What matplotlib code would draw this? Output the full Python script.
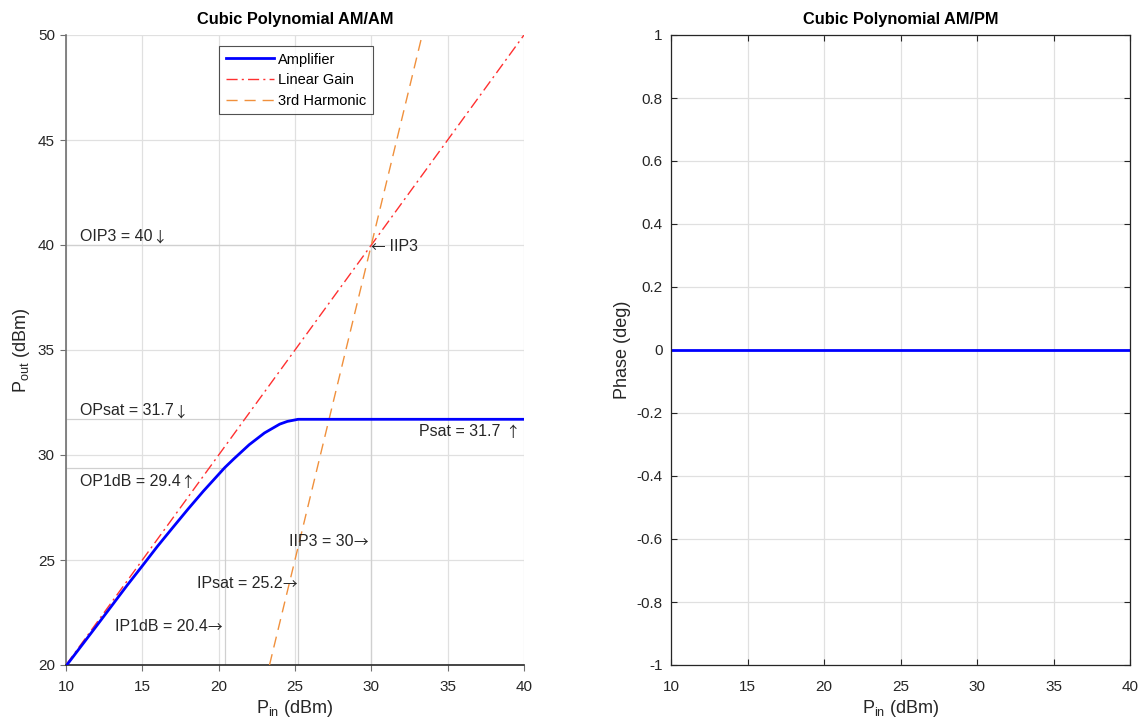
import matplotlib
matplotlib.use("Agg")
import matplotlib.pyplot as plt

plt.rcParams['font.family'] = ['Liberation Sans', 'DejaVu Sans']

# ---- data ----
pin_amp = [10, 12, 14, 15, 16, 17, 18, 19, 20, 20.4, 21, 22, 23, 24, 24.5, 25, 25.2, 30, 35, 40]
pout_amp = [19.95, 21.86, 23.79, 24.72, 25.66, 26.55, 27.43, 28.28, 29.08, 29.4, 29.82,
            30.49, 31.05, 31.47, 31.6, 31.67, 31.7, 31.7, 31.7, 31.7]
pin_lin = [10, 40]
pout_lin = [20, 50]
pin_h3 = [23.33, 33.33]
pout_h3 = [20, 50]
phase_x = [10, 40]
phase_y = [0, 0]

OIP3, IIP3 = 40, 30
OPsat, IPsat = 31.7, 25.2
OP1dB, IP1dB = 29.4, 20.4

xticks = [10, 15, 20, 25, 30, 35, 40]
yticks_l = [20, 25, 30, 35, 40, 45, 50]
yticks_r = [-1, -0.8, -0.6, -0.4, -0.2, 0, 0.2, 0.4, 0.6, 0.8, 1]
yticklabels_r = ['-1', '-0.8', '-0.6', '-0.4', '-0.2', '0', '0.2', '0.4', '0.6', '0.8', '1']

W, H = 1143, 723
fig = plt.figure(figsize=(W / 100, H / 100), dpi=100)
ax1 = fig.add_axes([66 / W, 1 - 665 / H, (524 - 66) / W, (665 - 35) / H])
ax2 = fig.add_axes([671 / W, 1 - 665 / H, (1130 - 671) / W, (665 - 35) / H])

gridc = '#e0e0e0'
refc = '#d0d0d0'
txtc = '#262626'
fs = 11.5
tfs = 11
lfs = 13

# reference lines
ax1.plot([10, IIP3], [OIP3, OIP3], color=refc, lw=0.9, zorder=1)
ax1.plot([IIP3, IIP3], [20, OIP3], color=refc, lw=0.9, zorder=1)
ax1.plot([10, IPsat], [OPsat, OPsat], color=refc, lw=0.9, zorder=1)
ax1.plot([IPsat, IPsat], [20, OPsat], color=refc, lw=0.9, zorder=1)
ax1.plot([10, IP1dB], [OP1dB, OP1dB], color=refc, lw=0.9, zorder=1)
ax1.plot([IP1dB, IP1dB], [20, OP1dB], color=refc, lw=0.9, zorder=1)

ax1.plot(pin_amp, pout_amp, color='#0000ff', lw=2.0, label='Amplifier', zorder=4)
ax1.plot(pin_lin, pout_lin, color='#ff3030', lw=1.0, ls=(0, (8, 3, 1.5, 3)), label='Linear Gain', zorder=3)
ax1.plot(pin_h3, pout_h3, color='#f0903c', lw=1.0, ls=(0, (8, 5)), label='3rd Harmonic', zorder=3)

arrow_font = ['Noto Sans CJK SC', 'DejaVu Sans']
afs = 10.5


def note_left(x, y, main, arrow):
    t = ax1.text(x, y, main, fontsize=fs, color=txtc, va='center', ha='left')
    ax1.annotate(arrow, xy=(1, 0.5), xycoords=t, xytext=(0, -1), textcoords='offset points',
                 fontsize=afs, color=txtc, va='center', ha='left', family=arrow_font)


def note_right(x, y, main, arrow):
    a = ax1.text(x, y, arrow, fontsize=afs, color=txtc, va='center', ha='right', family=arrow_font)
    ax1.annotate(main, xy=(0, 0.5), xycoords=a, xytext=(0, 1), textcoords='offset points',
                 fontsize=fs, color=txtc, va='center', ha='right')


note_left(10.9, 40.4, 'OIP3 = 40', '\u2193')
a = ax1.text(29.95, 39.85, '\u2190', fontsize=afs, color=txtc, va='center', ha='left', family=arrow_font)
ax1.annotate(' IIP3', xy=(1, 0.5), xycoords=a, xytext=(0, 1), textcoords='offset points',
             fontsize=fs, color=txtc, va='center', ha='left')
note_left(10.9, 32.1, 'OPsat = 31.7', '\u2193')
note_right(39.7, 31.05, 'Psat = 31.7 ', '\u2191')
note_left(10.9, 28.75, 'OP1dB = 29.4', '\u2191')
note_right(29.8, 25.8, 'IIP3 = 30', '\u2192')
note_right(25.15, 23.8, 'IPsat = 25.2', '\u2192')
note_right(20.25, 21.75, 'IP1dB = 20.4', '\u2192')

ax1.set_xlim(10, 40)
ax1.set_ylim(20, 50)
ax1.set_xticks(xticks)
ax1.set_yticks(yticks_l)
ax1.grid(True, color=gridc, lw=0.9)
ax1.set_axisbelow(True)
for s in ['top', 'right']:
    ax1.spines[s].set_visible(False)
ax1.spines['left'].set_color('#707070')
ax1.spines['bottom'].set_color('#262626')
for s in ['left', 'bottom']:
    ax1.spines[s].set_linewidth(1.2)
ax1.tick_params(direction='out', length=4, colors='#707070', labelcolor=txtc, labelsize=tfs)
ax1.tick_params(axis='x', pad=7)
ax1.tick_params(axis='y', pad=4)
ax1.set_title('Cubic Polynomial AM/AM', fontsize=11.8, fontweight='bold', color='black', pad=8)
ax1.set_xlabel('P$_{\\mathregular{in}}$ (dBm)', fontsize=lfs, color=txtc, labelpad=3)
ax1.set_ylabel('P$_{\\mathregular{out}}$ (dBm)', fontsize=lfs, color=txtc, labelpad=4)

leg = ax1.legend(loc='upper left', bbox_to_anchor=((219 - 66) / 458, 1 - (46 - 35) / 630),
                 fontsize=10.5, frameon=True, fancybox=False, edgecolor='#262626',
                 handlelength=3.3, handletextpad=0.3, borderpad=0.45, labelspacing=0.45,
                 borderaxespad=0)
leg.get_frame().set_linewidth(0.8)

# right panel
ax2.plot(phase_x, phase_y, color='#0000ff', lw=2.0)
ax2.set_xlim(10, 40)
ax2.set_ylim(-1, 1)
ax2.set_xticks(xticks)
ax2.set_yticks(yticks_r)
ax2.set_yticklabels(yticklabels_r)
ax2.grid(True, color=gridc, lw=0.9)
ax2.set_axisbelow(True)
for s in ax2.spines.values():
    s.set_color('#262626')
    s.set_linewidth(0.9)
ax2.tick_params(direction='in', length=4, top=True, right=True, colors='#262626',
                labelcolor=txtc, labelsize=tfs)
ax2.tick_params(axis='x', pad=11)
ax2.tick_params(axis='y', pad=6)
ax2.set_title('Cubic Polynomial AM/PM', fontsize=11.8, fontweight='bold', color='black', pad=8)
ax2.set_xlabel('P$_{\\mathregular{in}}$ (dBm)', fontsize=lfs, color=txtc, labelpad=3)
ax2.set_ylabel('Phase (deg)', fontsize=lfs, color=txtc, labelpad=4)

fig.savefig('out.png', dpi=100)
